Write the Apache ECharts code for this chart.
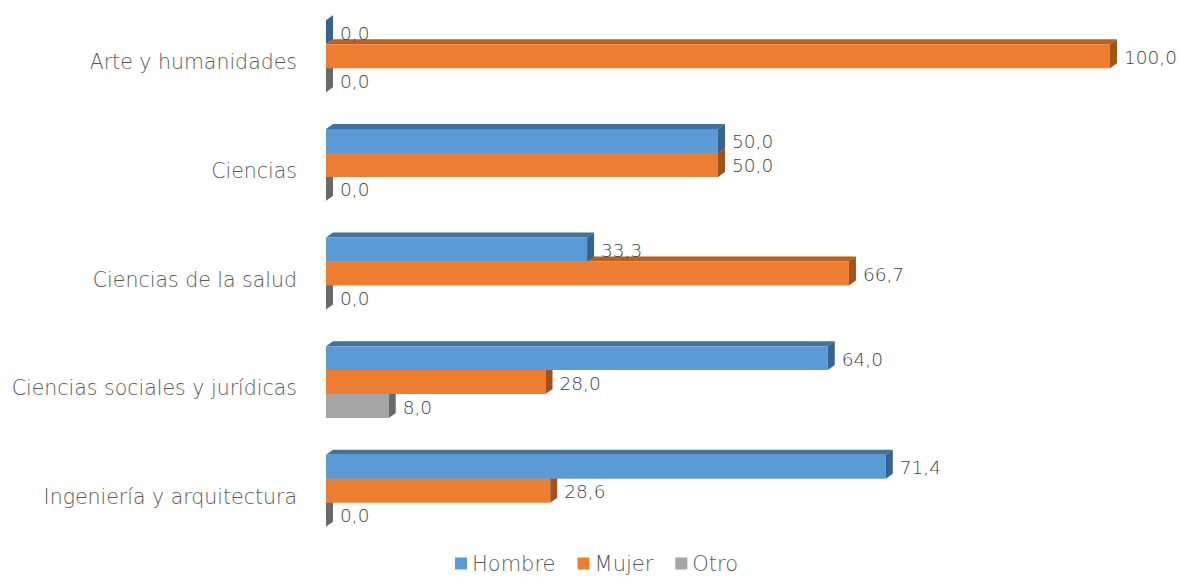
<!DOCTYPE html>
<html><head><meta charset="utf-8">
<script src="https://cdn.jsdelivr.net/npm/echarts@6/dist/echarts.min.js"></script>
<style>html,body{margin:0;padding:0;background:#fff}#c{width:1179px;height:577px}</style>
</head><body><div id="c"></div>
<script>
const categories = ["Arte y humanidades","Ciencias","Ciencias de la salud","Ciencias sociales y jurídicas","Ingeniería y arquitectura"];
const seriesNames = ["Hombre","Mujer","Otro"];
const hombre = [0.0, 50.0, 33.3, 64.0, 71.4];
const mujer = [100.0, 50.0, 66.7, 28.0, 28.6];
const otro = [0.0, 0.0, 0.0, 8.0, 0.0];

const FONT = '"DejaVu Sans"';
const front = ['#5B9BD5','#ED7D31','#A5A5A5'];
const topC = ['#41719C','#B8601F','#7C7C7C'];
const sideC = ['#35648F','#A4521A','#6A6A6A'];
const DX = 7, DY = 5;

function mk(idx, values){
  return {
    type:'custom', name: seriesNames[idx], z: 4-idx,
    itemStyle:{color: front[idx]},
    data: values.map((v,i)=>[v,i]),
    encode:{x:0,y:1},
    renderItem: function(params, api){
      const v = api.value(0), c = api.value(1);
      const p0 = api.coord([0,c]);
      const p1 = api.coord([v,c]);
      const band = api.size([0,1])[1];
      const h = band*0.2207;
      const top = p0[1] - 1.5*h + idx*h;
      const bot = top + h;
      const x0 = p0[0], x1 = p1[0];
      const children = [];
      if (x1 - x0 > 0.5){
        children.push({type:'polygon',shape:{points:[[x0,top],[x1,top],[x1+DX,top-DY],[x0+DX,top-DY]]},style:{fill:topC[idx]}});
        children.push({type:'rect',shape:{x:x0,y:top,width:x1-x0,height:h},style:{fill:front[idx]}});
      }
      children.push({type:'polygon',shape:{points:[[x1,top],[x1+DX,top-DY],[x1+DX,bot-DY],[x1,bot]]},style:{fill:sideC[idx]}});
      children.push({type:'text',x:x1+DX+7,y:(top+bot)/2+1,style:{text:v.toFixed(1).replace('.',','),fill:'#404040',font:'200 18.5px '+FONT,verticalAlign:'middle',align:'left'}});
      return {type:'group',children:children};
    }
  };
}

const chart = echarts.init(document.getElementById('c'), null, {renderer:'svg'});
chart.setOption({
  animation:false,
  color: front,
  grid:{left:326,right:69,top:2,bottom:32},
  xAxis:{type:'value',min:0,max:100,show:false},
  yAxis:{type:'category',data:categories,inverse:true,
    axisLine:{show:false},axisTick:{show:false},splitLine:{show:false},
    axisLabel:{fontFamily:FONT,fontWeight:200,fontSize:20.5,color:'#595959',margin:29,verticalAlign:'top',lineHeight:12}},
  legend:{data:seriesNames,bottom:-2,left:450,icon:'rect',itemWidth:12,itemHeight:12,itemGap:22,
    textStyle:{fontFamily:FONT,fontWeight:200,fontSize:21,color:'#595959'}},
  series:[mk(0,hombre),mk(1,mujer),mk(2,otro)]
});
</script></body></html>
